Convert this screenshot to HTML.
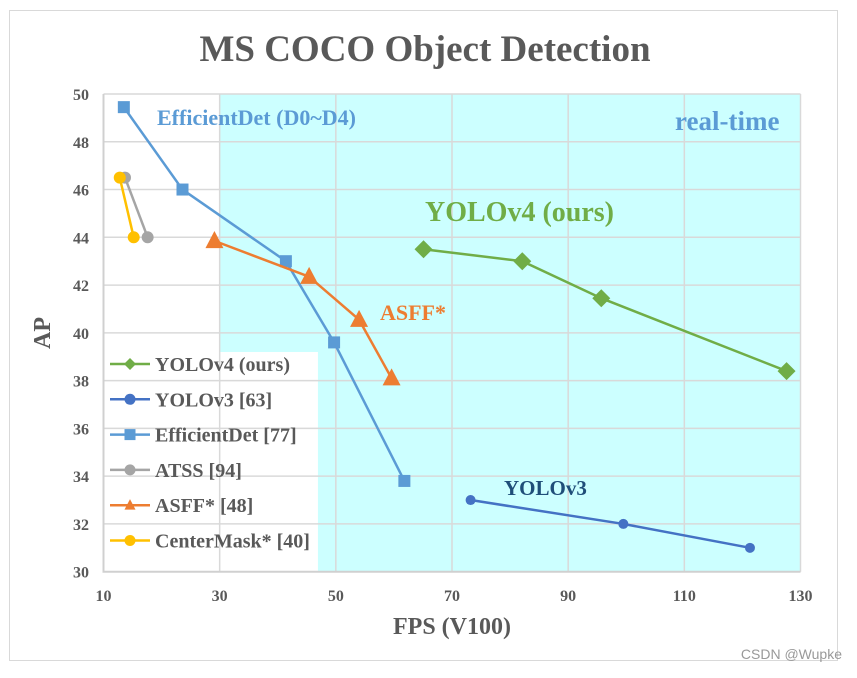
<!DOCTYPE html>
<html><head><meta charset="utf-8"><style>
body{margin:0;background:#fff;width:857px;height:673px;overflow:hidden;font-family:"Liberation Serif",serif}
svg text{font-family:"Liberation Serif",serif;font-weight:bold}
</style></head><body>
<svg id="chart" width="857" height="673" xmlns="http://www.w3.org/2000/svg">
<rect x="9.5" y="10.5" width="828" height="650" fill="#fff" stroke="#d9d9d9"/>
<text x="425" y="61" text-anchor="middle" font-size="37" fill="#595959">MS COCO Object Detection</text>
<g id="plot"></g>
<text transform="translate(50,333) rotate(-90)" text-anchor="middle" font-size="24" fill="#595959">AP</text>
<text x="452" y="634" text-anchor="middle" font-size="24" fill="#595959">FPS (V100)</text>
<text x="842" y="659" text-anchor="end" font-size="14" style="font-family:'Liberation Sans',sans-serif;font-weight:normal" fill="#999">CSDN @Wupke</text>
</svg>
<script>
const xTicks=[10,30,50,70,90,110,130];
const yTicks=[30,32,34,36,38,40,42,44,46,48,50];
const yolov4X=[65.1,82.1,95.7,127.6], yolov4Y=[43.5,43.0,41.45,38.4];
const yolov3X=[73.2,99.5,121.3], yolov3Y=[33.0,32.0,31.0];
const effX=[13.5,23.6,41.4,49.7,61.8], effY=[49.45,46.0,43.0,39.6,33.8];
const atssX=[13.7,17.6], atssY=[46.5,44.0];
const asffX=[29.1,45.4,54.0,59.6], asffY=[43.85,42.35,40.55,38.1];
const cmX=[12.8,15.2], cmY=[46.5,44.0];
const legendNames=["YOLOv4 (ours)","YOLOv3 [63]","EfficientDet [77]","ATSS [94]","ASFF* [48]","CenterMask* [40]"];

const X=v=>103.5+(v-10)*(697/120);
const Y=v=>94+(50-v)*(477.7/20);
const NS="http://www.w3.org/2000/svg";
const g=document.getElementById('plot');
function mk(t,a,p){const e=document.createElementNS(NS,t);for(const k in a)e.setAttribute(k,a[k]);(p||g).appendChild(e);return e;}

let bg=mk('path',{d:`M${X(30)},${Y(50)}H${X(130)}V${Y(30)}H${X(46.9)}V352H${X(30)}Z`,fill:'#ccffff'});


let lbg=mk('rect',{x:X(10),y:352,width:X(46.9)-X(10),height:Y(30)-352,fill:'#fff'});


xTicks.forEach(t=>{
 let l=mk('line',{x1:X(t),x2:X(t),y1:Y(50),y2:Y(30),stroke:'#d9d9d9','stroke-width':1.5});
 
 
 let tx=mk('text',{x:X(t),y:601,'text-anchor':'middle','font-size':16,fill:'#595959'});tx.textContent=t;
 
 
});
yTicks.forEach(t=>{
 let l=mk('line',{x1:X(10),x2:X(130),y1:Y(t),y2:Y(t),stroke:'#d9d9d9','stroke-width':1.5});
 
 
 let tx=mk('text',{x:89,y:Y(t)+6,'text-anchor':'end','font-size':16,fill:'#595959'});tx.textContent=t;
 
 
});
function marker(type,x,y,c,s,name){
 let e;
 if(type==='d')e=mk('path',{d:`M${x},${y-s}L${x+s},${y}L${x},${y+s}L${x-s},${y}Z`,fill:c});
 else if(type==='s')e=mk('rect',{x:x-s,y:y-s,width:2*s,height:2*s,fill:c});
 else if(type==='t')e=mk('path',{d:`M${x},${y-s*1.1}L${x+s},${y+s*0.8}L${x-s},${y+s*0.8}Z`,fill:c});
 else e=mk('circle',{cx:x,cy:y,r:s,fill:c});
 
 
}
const series=[[yolov4X,yolov4Y,'#70ad47','d',9,'yolov4'],[yolov3X,yolov3Y,'#4472c4','c',5,'yolov3'],[effX,effY,'#5b9bd5','s',6,'efficientdet'],[atssX,atssY,'#a5a5a5','c',6,'atss'],[asffX,asffY,'#ed7d31','t',9,'asff'],[cmX,cmY,'#ffc000','c',6,'centermask']];
series.forEach(([xs,ys,c,m,s,n])=>{
 let p=mk('polyline',{points:xs.map((v,i)=>X(v)+','+Y(ys[i])).join(' '),fill:'none',stroke:c,'stroke-width':2.5});
 
 
 xs.forEach((v,i)=>marker(m,X(v),Y(ys[i]),c,s,n+'-point'));
});
series.forEach(([xs,ys,c,m,s,n],i)=>{
 const y=364+i*35.3;
 let l=mk('line',{x1:110,x2:150,y1:y,y2:y,stroke:c,'stroke-width':2.5});
 
 
 marker(m,130,y,c,m==='d'?6:5.5,'legend-marker');
 let t=mk('text',{x:155,y:y+7,'font-size':20,fill:'#595959'});t.textContent=legendNames[i];
 
 
});
[["EfficientDet (D0~D4)",157,125,22,'#5b9bd5','efficientdet-annotation'],["real-time",675,130,27,'#5b9bd5','real-time-annotation'],["YOLOv4 (ours)",425,221,28,'#70ad47','yolov4-annotation'],["ASFF*",380,320,22,'#ed7d31','asff-annotation'],["YOLOv3",504,495,21,'#1f4e79','yolov3-annotation']].forEach(([s,x,y,f,c,n])=>{
 let t=mk('text',{x,y,'font-size':f,fill:c});t.textContent=s;
 
 
});
let ax=mk('path',{d:`M${X(10)},${Y(50)}V${Y(30)}H${X(130)}`,fill:'none',stroke:'#d0d0d0','stroke-width':2});


</script>
</body></html>
